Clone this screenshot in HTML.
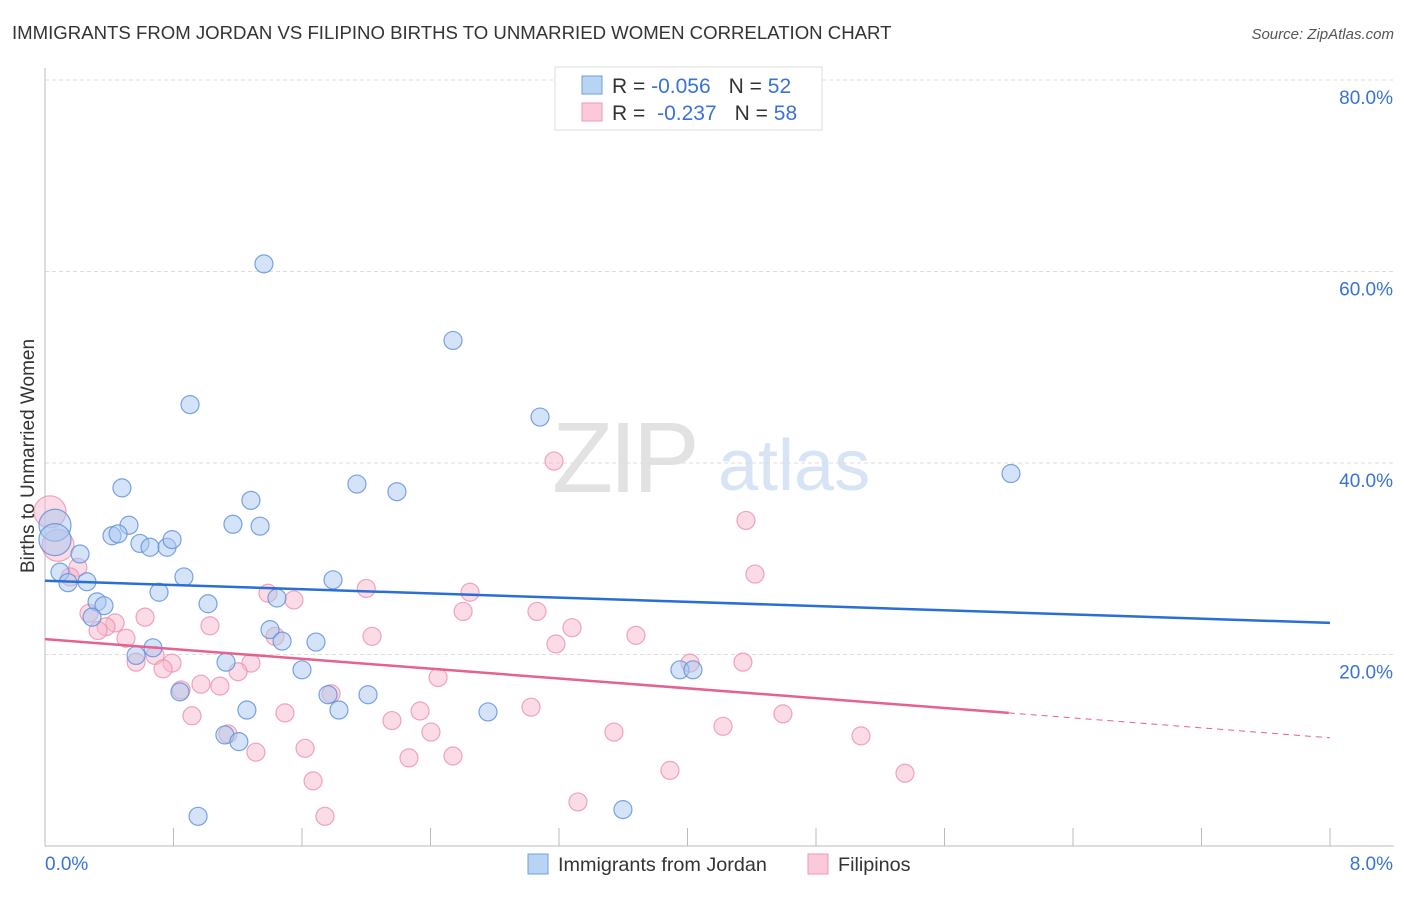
<!DOCTYPE html>
<html><head><meta charset="utf-8"><style>
body{margin:0;background:#fff;font-family:"Liberation Sans",sans-serif}
svg text{font-family:"Liberation Sans",sans-serif}
</style></head><body>
<svg id="c" width="1406" height="892">
<text x="12" y="39" font-size="18.6" fill="#333">IMMIGRANTS FROM JORDAN VS FILIPINO BIRTHS TO UNMARRIED WOMEN CORRELATION CHART</text>
<text x="1394" y="39" font-size="15" fill="#555" text-anchor="end" font-style="italic">Source: ZipAtlas.com</text>
<g><text x="552" y="492" font-size="100" fill="#e2e2e2" font-family="Liberation Serif" letter-spacing="-4">ZIP</text><text x="718" y="490" font-size="72" fill="#d7e4f5">atlas</text></g>
<g id="grid"></g><g id="axes"></g><g id="pts"></g><g id="trend"></g>
<text transform="translate(34,456) rotate(-90)" font-size="19" fill="#333" text-anchor="middle">Births to Unmarried Women</text>
<g>
<rect x="555" y="67" width="267" height="63" fill="#fff" stroke="#ddd"/>
<rect x="582" y="76" width="20" height="18" fill="#b9d3f5" stroke="#6f9fe0"/>
<rect x="582" y="103" width="20" height="18" fill="#fbc9d8" stroke="#ee96b2"/>
<text x="612" y="93" font-size="21" fill="#333">R = <tspan fill="#3a72d8">-0.056</tspan><tspan dx="18">N = </tspan><tspan fill="#3a72d8">52</tspan></text>
<text x="612" y="120" font-size="21" fill="#333">R = <tspan dx="6" fill="#3a72d8">-0.237</tspan><tspan dx="18">N = </tspan><tspan fill="#3a72d8">58</tspan></text>
</g>
<g>
<rect x="528" y="854" width="20" height="20" fill="#b9d3f5" stroke="#6f9fe0"/>
<text x="558" y="871" font-size="19.8" fill="#333">Immigrants from Jordan</text>
<rect x="808" y="854" width="20" height="20" fill="#fbc9d8" stroke="#ee96b2"/>
<text x="838" y="871" font-size="19.8" fill="#333">Filipinos</text>
</g>
</svg>
<script>
const yTicks=[20,40,60,80];
const yTickLabels=["20.0%","40.0%","60.0%","80.0%"];
const xEndLabels=["0.0%","8.0%"];
const blueX=[1.363,2.54,0.903,3.082,6.014,0.479,1.942,2.191,1.282,1.17,1.339,0.523,0.062,0.062,0.417,0.455,0.591,0.654,0.76,0.791,0.218,0.093,0.143,0.261,0.865,1.793,0.71,0.324,0.367,1.015,1.444,0.293,1.401,1.476,1.687,0.672,0.567,1.127,1.6,0.84,1.762,2.011,1.257,1.83,2.758,3.953,4.034,1.12,1.207,0.953,3.598];
const blueY=[60.8,52.8,46.1,44.8,38.9,37.4,37.8,37.0,36.1,33.6,33.4,33.5,33.5,32.0,32.4,32.6,31.6,31.2,31.2,32.0,30.5,28.6,27.5,27.6,28.1,27.8,26.5,25.5,25.1,25.3,25.9,23.9,22.6,21.4,21.3,20.7,19.9,19.2,18.4,16.1,15.8,15.8,14.2,14.2,14.0,18.4,18.4,11.6,10.9,3.1,3.8];
const blueBig=[12,13];
const pinkX=[3.169,4.364,4.42,0.031,0.081,0.205,0.156,1.388,2.0,2.646,1.55,2.603,3.063,0.274,0.623,0.436,0.38,0.33,1.027,3.281,0.504,2.036,3.679,3.181,1.432,0.685,0.567,0.791,1.282,4.016,4.345,0.735,1.202,2.447,0.971,1.089,0.847,1.781,0.915,1.494,2.335,3.026,4.594,2.16,1.139,2.403,3.542,4.221,5.08,1.313,1.619,2.266,2.54,1.669,3.891,5.354,3.318,1.743];
const pinkY=[40.2,34.0,28.4,34.9,31.4,29.1,28.1,26.4,26.9,26.5,25.7,24.5,24.5,24.3,23.9,23.3,22.9,22.5,23.0,22.8,21.7,21.9,22.0,21.1,21.9,19.9,19.2,19.1,19.1,19.1,19.2,18.5,18.2,17.6,16.9,16.7,16.3,15.9,13.6,13.9,14.1,14.5,13.8,13.1,11.7,11.9,11.9,12.5,11.5,9.8,10.2,9.2,9.4,6.8,7.9,7.6,4.6,3.1];
const pinkBig=[3,4];
const blueTrend=[27.7,23.3];
const pinkTrend=[21.6,13.9,11.3];
const pinkSolidEndX=6.0;
const X=v=>45+v/8*1285, Y=v=>846-v/20*191.5;
const NS="http://www.w3.org/2000/svg";
function mk(t,a,p){const e=document.createElementNS(NS,t);for(const k in a)e.setAttribute(k,a[k]);p.appendChild(e);return e;}
const grid=document.getElementById('grid'),axes=document.getElementById('axes'),pts=document.getElementById('pts'),tr=document.getElementById('trend');
yTicks.forEach((t,i)=>{
 const l=mk('line',{x1:45,x2:1394,y1:Y(t),y2:Y(t),stroke:'#ddd','stroke-dasharray':'4,3'},grid);
 
 
 const tx=mk('text',{x:1393,y:Y(t)+24,'font-size':19,fill:'#3a72d8','text-anchor':'end'},axes);
 tx.textContent=yTickLabels[i];
 
 
});
const ya=mk('line',{x1:45,x2:45,y1:68,y2:846,stroke:'#bbb'},axes);


const xa=mk('line',{x1:45,x2:1394,y1:846,y2:846,stroke:'#bbb'},axes);


for(let i=1;i<=10;i++){const v=i*0.8;
 const tk=mk('line',{x1:X(v),x2:X(v),y1:828,y2:846,stroke:'#bbb'},axes);
 
 
}
const xl0=mk('text',{x:45,y:870,'font-size':19,fill:'#3a72d8'},axes);xl0.textContent=xEndLabels[0];


const xl1=mk('text',{x:1393,y:870,'font-size':19,fill:'#3a72d8','text-anchor':'end'},axes);xl1.textContent=xEndLabels[1];


function dots(xs,ys,big,fill,stroke,name){xs.forEach((x,i)=>{
 const c=mk('circle',{cx:X(x),cy:Y(ys[i]),r:big.includes(i)?16:9,fill:fill,'fill-opacity':0.5,stroke:stroke,'stroke-opacity':0.8,'stroke-width':1.2},pts);
 
 
});}
dots(pinkX,pinkY,pinkBig,'#f8b7cb','#ec90ae','filipinos-point');
dots(blueX,blueY,blueBig,'#aac8f0','#5a8fdc','jordan-point');
const bt=mk('line',{x1:X(0),y1:Y(blueTrend[0]),x2:X(8),y2:Y(blueTrend[1]),stroke:'#2a6ed6','stroke-width':2.5},tr);


const pt=mk('line',{x1:X(0),y1:Y(pinkTrend[0]),x2:X(pinkSolidEndX),y2:Y(pinkTrend[1]),stroke:'#e5618f','stroke-width':2.5},tr);


const pd=mk('line',{x1:X(pinkSolidEndX),y1:Y(pinkTrend[1]),x2:X(8),y2:Y(pinkTrend[2]),stroke:'#e5618f','stroke-width':1,'stroke-dasharray':'6,5'},tr);


</script>
</body></html>
